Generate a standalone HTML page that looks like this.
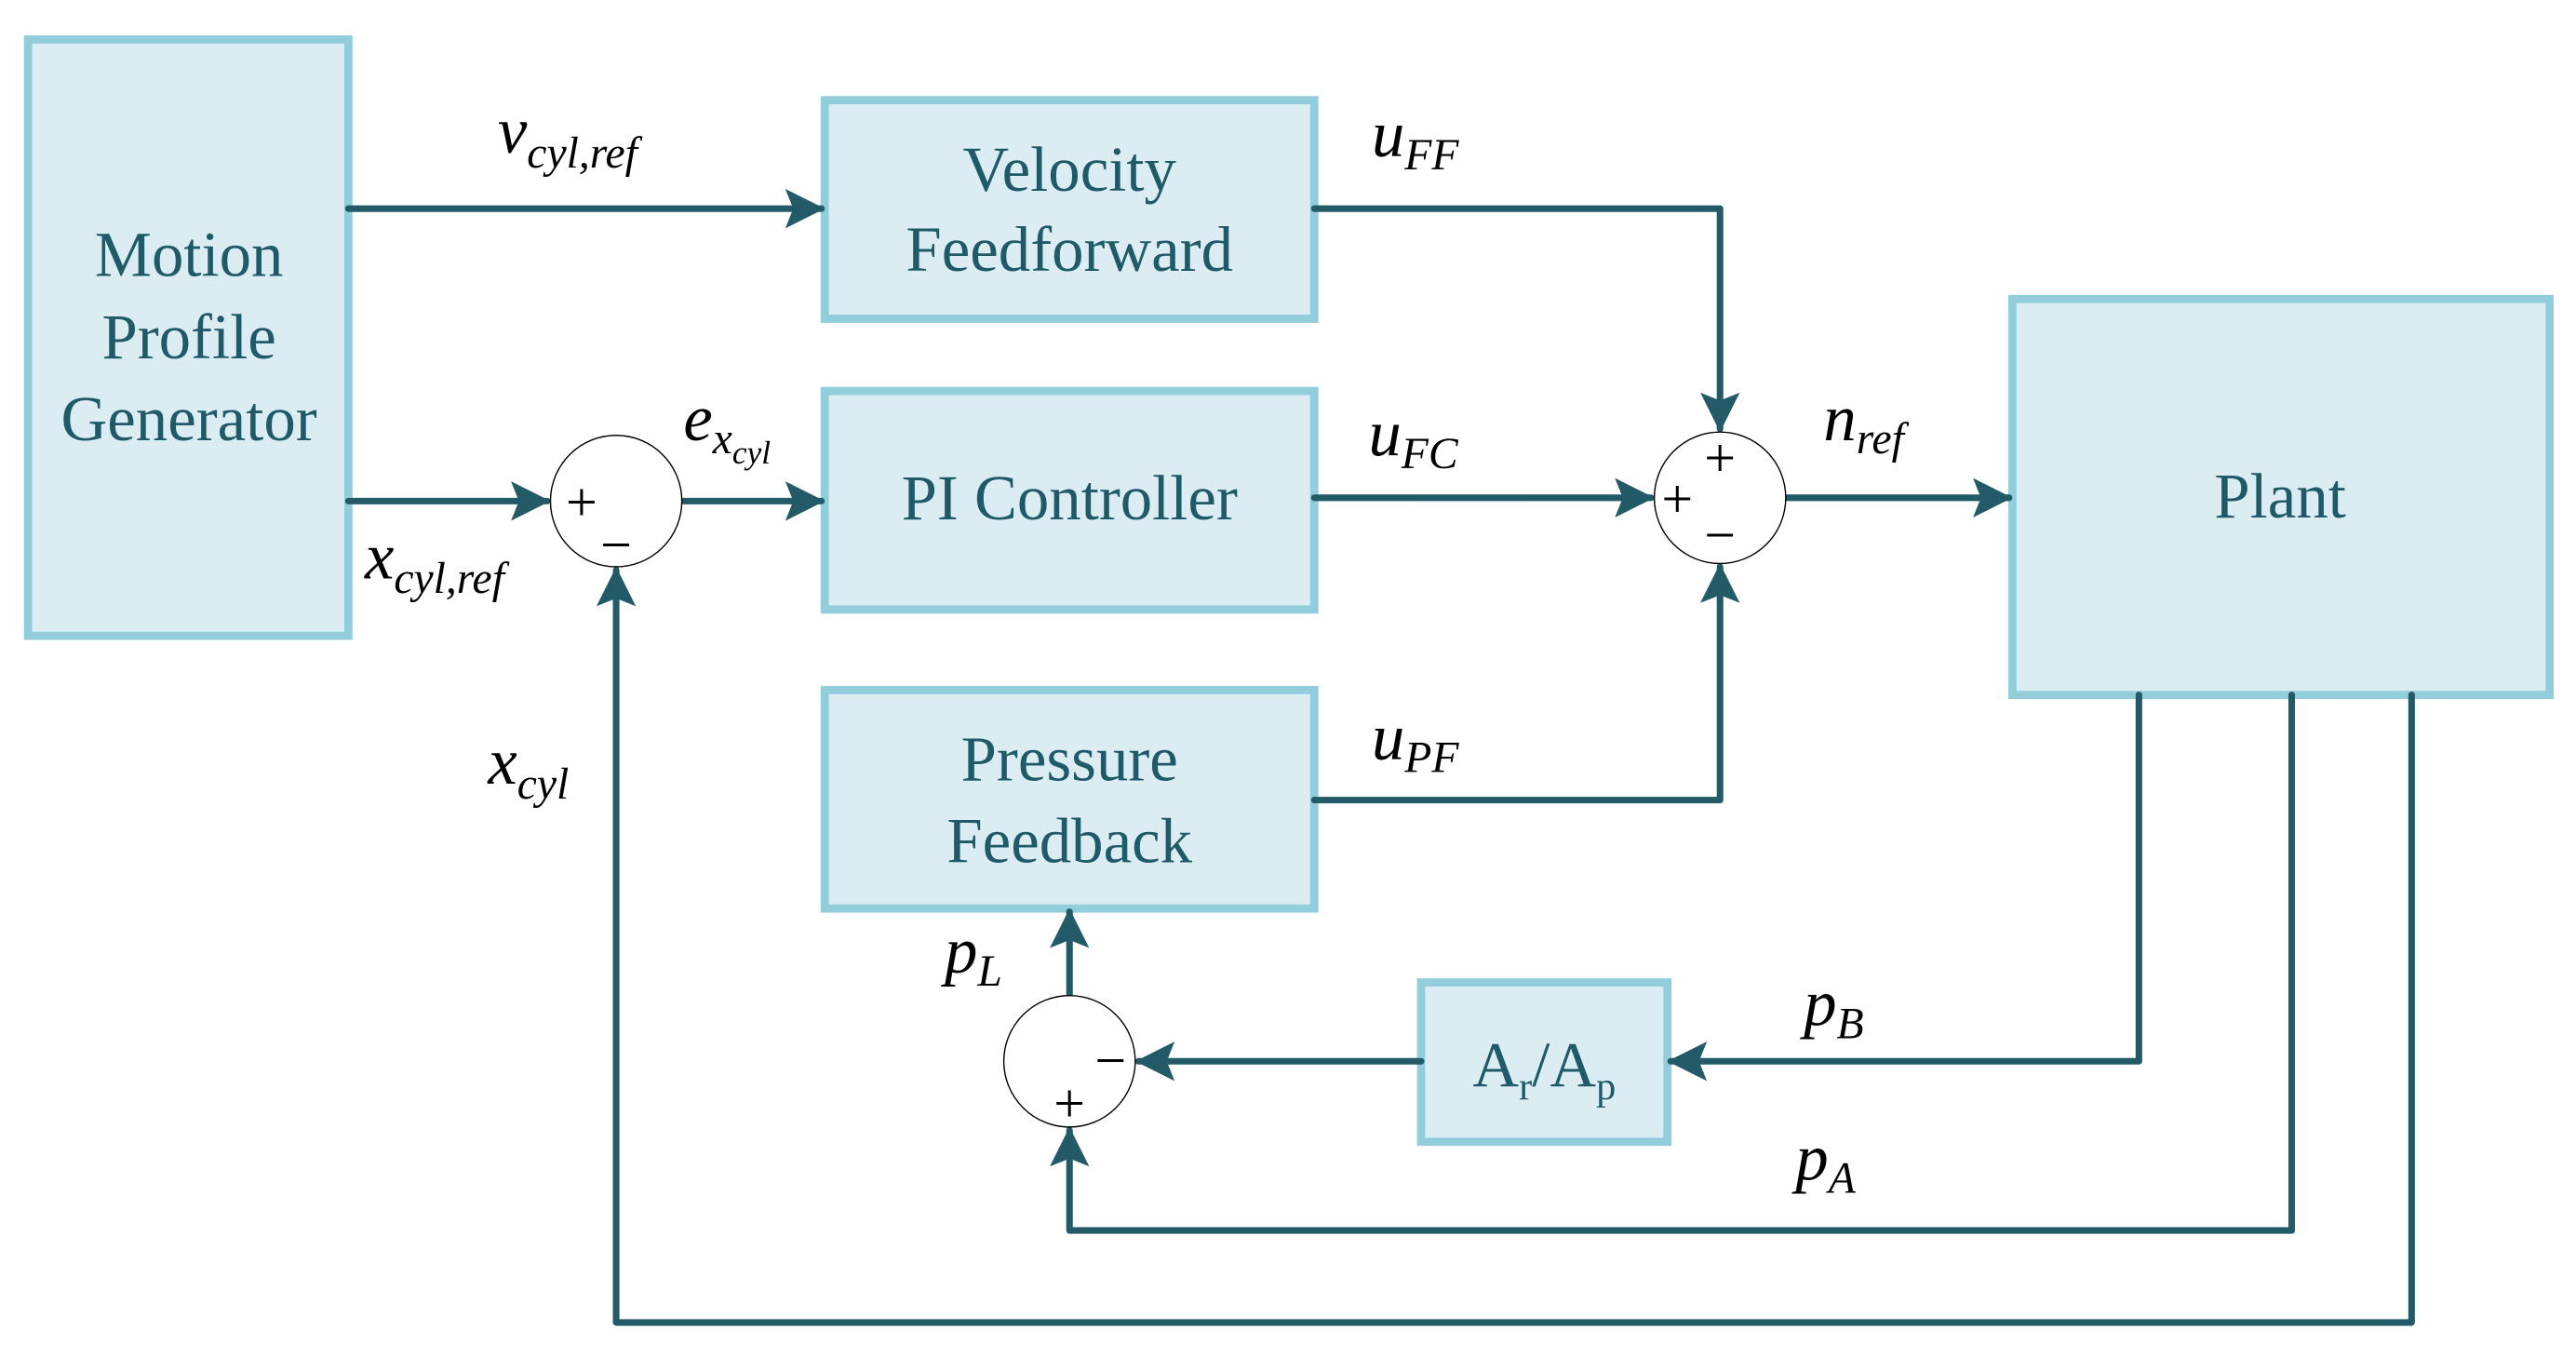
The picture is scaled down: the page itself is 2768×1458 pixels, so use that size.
<!DOCTYPE html>
<html><head><meta charset="utf-8"><style>
html,body{margin:0;padding:0;background:#fff;}
svg{display:block;}
.b{fill:#DBEDF3;stroke:#92CDDB;stroke-width:5;}
.t{font-family:"Liberation Serif","Times New Roman",serif;font-size:39px;fill:#1F5A68;text-anchor:middle;}
.l{fill:none;stroke:#235A68;stroke-width:4;stroke-linejoin:round;stroke-linecap:round;}
.c{fill:#fff;stroke:#000;stroke-width:0.8;}
.m{font-family:"Liberation Serif","Times New Roman",serif;font-style:italic;font-size:40px;fill:#000;}
.s{font-size:27px;}
.p{font-family:"Liberation Serif","Times New Roman",serif;font-size:34px;fill:#000;text-anchor:middle;}
</style></head><body>
<svg width="2768" height="1458" viewBox="0 0 1568 826" xmlns="http://www.w3.org/2000/svg">
<defs><marker id="a" markerWidth="6" markerHeight="6" refX="5.5" refY="3" orient="auto" markerUnits="strokeWidth"><path d="M0,0 L6,3 L0,6 L1.2,3 Z" fill="#235A68"/></marker></defs>
<rect class="b" x="17" y="24" width="195" height="363"/>
<text class="t" x="115" y="168">Motion</text><text class="t" x="115" y="218">Profile</text><text class="t" x="115" y="268">Generator</text>
<rect class="b" x="502" y="61" width="298" height="133"/>
<text class="t" x="651" y="116">Velocity</text><text class="t" x="651" y="165">Feedforward</text>
<rect class="b" x="502" y="238" width="298" height="133"/>
<text class="t" x="651" y="316">PI Controller</text>
<rect class="b" x="502" y="420" width="298" height="133"/>
<text class="t" x="651" y="475">Pressure</text><text class="t" x="651" y="525">Feedback</text>
<rect class="b" x="1225" y="182" width="327" height="241"/>
<text class="t" x="1388" y="315">Plant</text>
<rect class="b" x="865" y="598" width="150" height="97"/>
<text class="t" x="940" y="661">A<tspan font-size="24" dy="8">r</tspan><tspan dy="-8">/A</tspan><tspan font-size="24" dy="8">p</tspan></text>

<path class="l" d="M212,127 L500,127" marker-end="url(#a)"/>
<path class="l" d="M212,305 L333,305" marker-end="url(#a)"/>
<path class="l" d="M416,305 L500,305" marker-end="url(#a)"/>
<path class="l" d="M800,127 L1047,127 L1047,261" marker-end="url(#a)"/>
<path class="l" d="M800,303 L1005,303" marker-end="url(#a)"/>
<path class="l" d="M800,487 L1047,487 L1047,345" marker-end="url(#a)"/>
<path class="l" d="M1088,303 L1223,303" marker-end="url(#a)"/>
<path class="l" d="M1302,423 L1302,646 L1017,646" marker-end="url(#a)"/>
<path class="l" d="M865,646 L693,646" marker-end="url(#a)"/>
<path class="l" d="M651,606 L651,555" marker-end="url(#a)"/>
<path class="l" d="M1395,423 L1395,749 L651,749 L651,688" marker-end="url(#a)"/>
<path class="l" d="M1468,423 L1468,805 L375,805 L375,347" marker-end="url(#a)"/>

<ellipse class="c" cx="375" cy="305" rx="40" ry="40"/>
<text class="p" x="354" y="317">+</text><text class="p" x="375" y="343">−</text>
<ellipse class="c" cx="1047" cy="303" rx="40" ry="40"/>
<text class="p" x="1047" y="290">+</text><text class="p" x="1021" y="315">+</text><text class="p" x="1047" y="337">−</text>
<ellipse class="c" cx="651" cy="646" rx="40" ry="40"/>
<text class="p" x="676" y="657">−</text><text class="p" x="651" y="683">+</text>

<text class="m" x="303" y="93">v<tspan class="s" dy="9">cyl,ref</tspan></text>
<text class="m" x="835" y="95">u<tspan class="s" dy="8">FF</tspan></text>
<text class="m" x="416" y="268">e<tspan class="s" dy="8">x</tspan><tspan font-size="20" dy="6">cyl</tspan></text>
<text class="m" x="222" y="352">x<tspan class="s" dy="9">cyl,ref</tspan></text>
<text class="m" x="833" y="277">u<tspan class="s" dy="8">FC</tspan></text>
<text class="m" x="1110" y="268">n<tspan class="s" dy="8">ref</tspan></text>
<text class="m" x="297" y="477">x<tspan class="s" dy="9">cyl</tspan></text>
<text class="m" x="835" y="462">u<tspan class="s" dy="8">PF</tspan></text>
<text class="m" x="575" y="592">p<tspan class="s" dy="8">L</tspan></text>
<text class="m" x="1098" y="624">p<tspan class="s" dy="8">B</tspan></text>
<text class="m" x="1093" y="718">p<tspan class="s" dy="8">A</tspan></text>
</svg>
</body></html>
